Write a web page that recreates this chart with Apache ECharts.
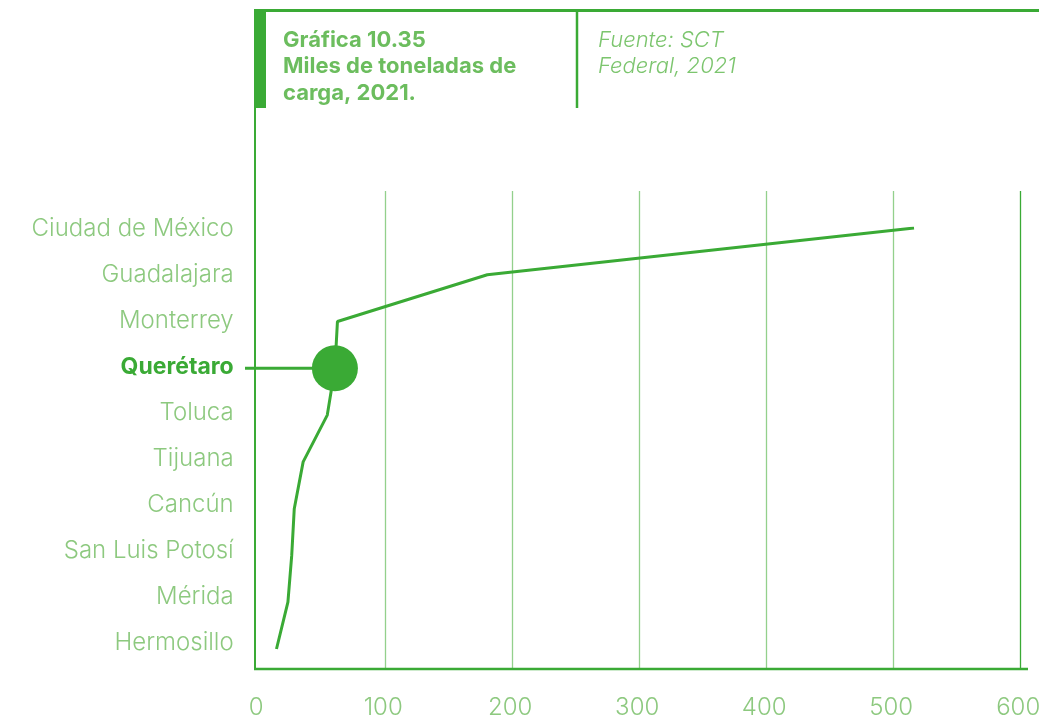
<!DOCTYPE html>
<html>
<head>
<meta charset="utf-8">
<script src="https://cdn.jsdelivr.net/npm/echarts@6/dist/echarts.min.js"></script>
<style>html,body{margin:0;padding:0;background:#fff}#c{width:1039px;height:720px}</style>
</head>
<body>
<div id="c"></div>
<script>
const cities = ['Ciudad de México','Guadalajara','Monterrey','Querétaro','Toluca','Tijuana','Cancún','San Luis Potosí','Mérida','Hermosillo'];
const tonnes = [516, 180, 62, 60, 54, 35, 28, 26, 23, 14];
const highlightCity = 'Querétaro';
const xTicks = [0, 100, 200, 300, 400, 500, 600];
const titleLines = ['Gráfica 10.35', 'Miles de toneladas de', 'carga, 2021.'];
const sourceLines = ['Fuente: SCT', 'Federal, 2021'];

const GREEN = '#3aaa35';
const LIGHT = '#8dc97f';
const GRIDC = '#93d08c';
const FONT = 'Inter, Roboto, sans-serif';

const chart = echarts.init(document.getElementById('c'));
const L = 258.7, R = 1039 - 1020.7;
const hiIdx = cities.indexOf(highlightCity);

chart.setOption({
  animation: false,
  grid: [
    {left: L, right: R, top: 191, bottom: 52, outerBoundsMode: 'none', containLabel: false},
    {left: L, right: R, top: 228, bottom: 71, outerBoundsMode: 'none', containLabel: false},
    {left: L, right: R, top: 229, bottom: 77, outerBoundsMode: 'none', containLabel: false}
  ],
  xAxis: [
    {gridIndex: 0, type: 'value', min: xTicks[0], max: xTicks[xTicks.length-1], interval: 100,
     axisLine: {show: false}, axisTick: {show: false},
     axisLabel: {color: LIGHT, fontFamily: FONT, fontWeight: 300, fontSize: 24, margin: 28, padding: [0, 5, 0, 0]},
     splitLine: {show: true, lineStyle: {color: ['rgba(0,0,0,0)', GRIDC, GRIDC, GRIDC, GRIDC, GRIDC, GREEN], width: 1.3}}},
    {gridIndex: 1, type: 'value', min: 0, max: 600, show: false},
    {gridIndex: 2, type: 'value', min: 0, max: 600, show: false}
  ],
  yAxis: [
    {gridIndex: 0, type: 'value', show: false},
    {gridIndex: 1, type: 'category', data: cities, inverse: true, boundaryGap: false, show: false},
    {gridIndex: 2, type: 'category', data: cities, inverse: true, boundaryGap: false,
     axisLine: {show: false}, axisTick: {show: false}, splitLine: {show: false},
     axisLabel: {margin: 25, color: LIGHT, fontFamily: FONT, fontWeight: 300, fontSize: 24,
       formatter: v => v === highlightCity ? '{b|' + v + '}' : v,
       rich: {b: {color: GREEN, fontWeight: 'bold', fontFamily: FONT, fontSize: 23}}}}
  ],
  series: [
    {type: 'line', xAxisIndex: 1, yAxisIndex: 1, data: tonnes.map((v, i) => [v, cities[i]]),
     symbol: 'none', lineStyle: {color: GREEN, width: 3}, z: 3},
    {type: 'scatter', xAxisIndex: 1, yAxisIndex: 1, data: [[tonnes[hiIdx], cities[hiIdx]]],
     symbolSize: 46, itemStyle: {color: GREEN, opacity: 1}, z: 4}
  ]
});

const dot = chart.convertToPixel({xAxisIndex: 1, yAxisIndex: 1}, [tonnes[hiIdx], cities[hiIdx]]);
chart.setOption({
  graphic: [
    {type: 'line', shape: {x1: 254, y1: 10.5, x2: 1039, y2: 10.5}, style: {stroke: GREEN, lineWidth: 3}},
    {type: 'rect', shape: {x: 254, y: 10, width: 12, height: 98}, style: {fill: GREEN}},
    {type: 'line', shape: {x1: 577, y1: 10, x2: 577, y2: 108}, style: {stroke: GREEN, lineWidth: 2.5}},
    {type: 'line', shape: {x1: 255, y1: 10, x2: 255, y2: 669}, style: {stroke: GREEN, lineWidth: 2}},
    {type: 'line', shape: {x1: 254, y1: 669, x2: 1028, y2: 669}, style: {stroke: GREEN, lineWidth: 2.5}},
    {type: 'line', z: 3, shape: {x1: 245, y1: dot[1], x2: dot[0], y2: dot[1]}, style: {stroke: GREEN, lineWidth: 3}},
    {type: 'text', style: {x: 283, y: 27, text: titleLines.join('\n'), fill: '#6cbd5e',
       font: 'bold 22px ' + FONT, lineHeight: 26.5, textVerticalAlign: 'top'}},
    {type: 'text', style: {x: 598, y: 27, text: sourceLines.join('\n'), fill: '#7cc56e',
       font: 'italic 300 22px ' + FONT, lineHeight: 26, textVerticalAlign: 'top'}}
  ]
});
</script>
</body>
</html>
